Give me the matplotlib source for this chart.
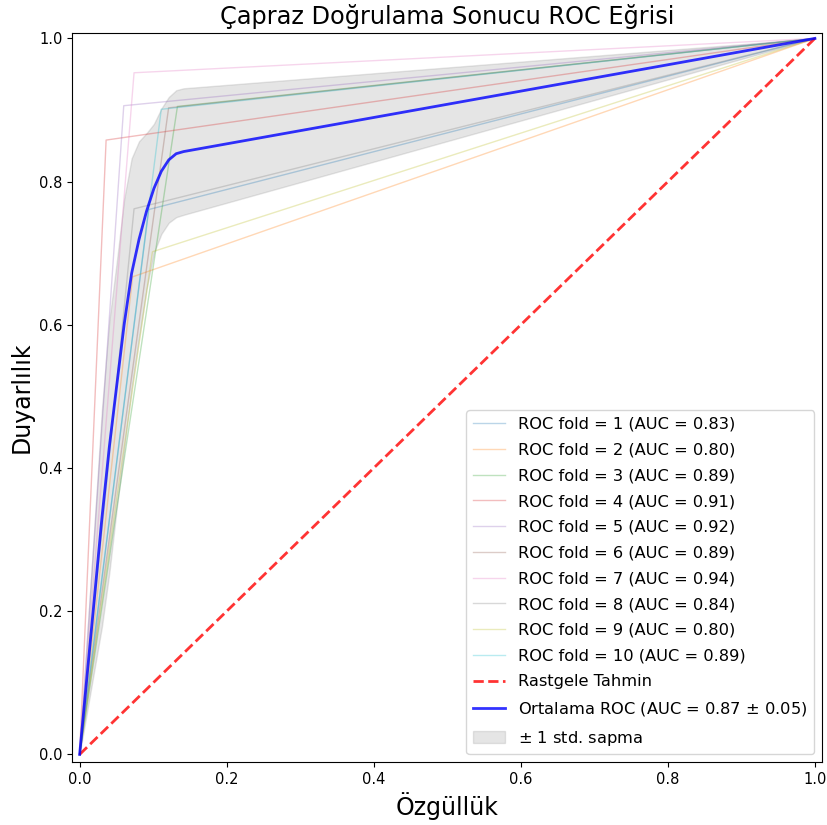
import numpy as np
import matplotlib
matplotlib.use("Agg")
import matplotlib.pyplot as plt

# Operating point (FPR, TPR) of each cross-validation fold
fold_ids = [1, 2, 3, 4, 5, 6, 7, 8, 9, 10]
fold_fpr = [0.094, 0.072, 0.133, 0.036, 0.060, 0.121, 0.074, 0.074, 0.099, 0.111]
fold_tpr = [0.761, 0.667, 0.905, 0.858, 0.906, 0.903, 0.952, 0.762, 0.702, 0.901]
fold_auc = [0.83, 0.80, 0.89, 0.91, 0.92, 0.89, 0.94, 0.84, 0.80, 0.89]

title = "Çapraz Doğrulama Sonucu ROC Eğrisi"
xlabel = "Özgüllük"
ylabel = "Duyarlılık"

fig = plt.figure(figsize=(8.28, 8.25), dpi=100)
ax = fig.add_axes([0.0873, 0.076, 0.9058, 0.8844])

colors = plt.get_cmap("tab10").colors
mean_fpr = np.linspace(0, 1, 100)
tprs = []
for i, (k, f, t, a) in enumerate(zip(fold_ids, fold_fpr, fold_tpr, fold_auc)):
    fpr = np.array([0.0, f, 1.0])
    tpr = np.array([0.0, t, 1.0])
    ax.plot(fpr, tpr, lw=1, alpha=0.3, color=colors[i % 10],
            label=f"ROC fold = {k} (AUC = {a:.2f})")
    it = np.interp(mean_fpr, fpr, tpr)
    it[0] = 0.0
    tprs.append(it)

ax.plot([0, 1], [0, 1], linestyle="--", lw=2, color="r", alpha=0.8,
        label="Rastgele Tahmin")

mean_tpr = np.mean(tprs, axis=0)
mean_tpr[-1] = 1.0
mean_auc = np.mean(fold_auc)
std_auc = np.std(fold_auc)
ax.plot(mean_fpr, mean_tpr, color="b", lw=2, alpha=0.8,
        label=f"Ortalama ROC (AUC = {mean_auc:.2f} $\\pm$ {std_auc:.2f})")

std_tpr = np.std(tprs, axis=0)
upper = np.minimum(mean_tpr + std_tpr, 1)
lower = np.maximum(mean_tpr - std_tpr, 0)
ax.fill_between(mean_fpr, lower, upper, color="grey", alpha=0.2,
                label="$\\pm$ 1 std. sapma")

ax.set_xlim(-0.01, 1.01)
ax.set_ylim(-0.011, 1.008)
ax.tick_params(labelsize=10.5)
ax.set_title(title, fontsize=17.3)
ax.set_xlabel(xlabel, fontsize=17)
ax.set_ylabel(ylabel, fontsize=17)
ax.legend(loc="lower right", fontsize=11.7, labelspacing=0.66)

fig.savefig("out.png", dpi=100)
